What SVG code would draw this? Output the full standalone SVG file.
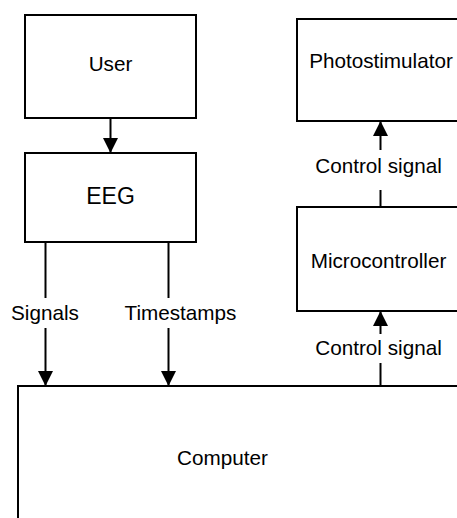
<svg xmlns="http://www.w3.org/2000/svg" width="457" height="518" viewBox="0 0 457 518">
<style>
.box{fill:#fff;stroke:#000;stroke-width:2}
.ln{fill:none;stroke:#000;stroke-width:2}
text{font-family:"Liberation Sans",Arial,sans-serif;font-size:20.7px;fill:#000;text-anchor:middle}
.big{font-size:23px}
</style>
<defs>
<marker id="ah" markerUnits="userSpaceOnUse" markerWidth="16" markerHeight="16" refX="15" refY="8" orient="auto">
<path d="M0,0.5 L15,8 L0,15.5 z" fill="#000"/>
</marker>
</defs>
<g id="user"><rect class="box" x="25" y="15" width="171" height="103"/><text x="110.5" y="71">User</text></g>
<g id="eeg"><rect class="box" x="25" y="153" width="171" height="89"/><text class="big" x="110.5" y="204">EEG</text></g>
<g id="photostimulator"><rect class="box" x="297" y="19" width="170" height="102"/><text x="381" y="68">Photostimulator</text></g>
<g id="microcontroller"><rect class="box" x="297" y="207" width="170" height="104"/><text x="378.5" y="268">Microcontroller</text></g>
<g id="computer"><rect class="box" x="18" y="386" width="460" height="150"/><text x="222.5" y="465">Computer</text></g>
<g id="connectors">
<line class="ln" x1="110.5" y1="118" x2="110.5" y2="153" marker-end="url(#ah)"/>
<line class="ln" x1="45.5" y1="242" x2="45.5" y2="298"/>
<line class="ln" x1="45.5" y1="328" x2="45.5" y2="386" marker-end="url(#ah)"/>
<text x="45" y="320">Signals</text>
<line class="ln" x1="168.5" y1="242" x2="168.5" y2="298"/>
<line class="ln" x1="168.5" y1="328" x2="168.5" y2="386" marker-end="url(#ah)"/>
<text x="180.5" y="320">Timestamps</text>
<line class="ln" x1="380.5" y1="386" x2="380.5" y2="363"/>
<line class="ln" x1="380.5" y1="334" x2="380.5" y2="311" marker-end="url(#ah)"/>
<text x="378.5" y="355">Control signal</text>
<line class="ln" x1="380.5" y1="207" x2="380.5" y2="190"/>
<line class="ln" x1="380.5" y1="150" x2="380.5" y2="121" marker-end="url(#ah)"/>
<text x="378.5" y="173">Control signal</text>
</g>
</svg>
